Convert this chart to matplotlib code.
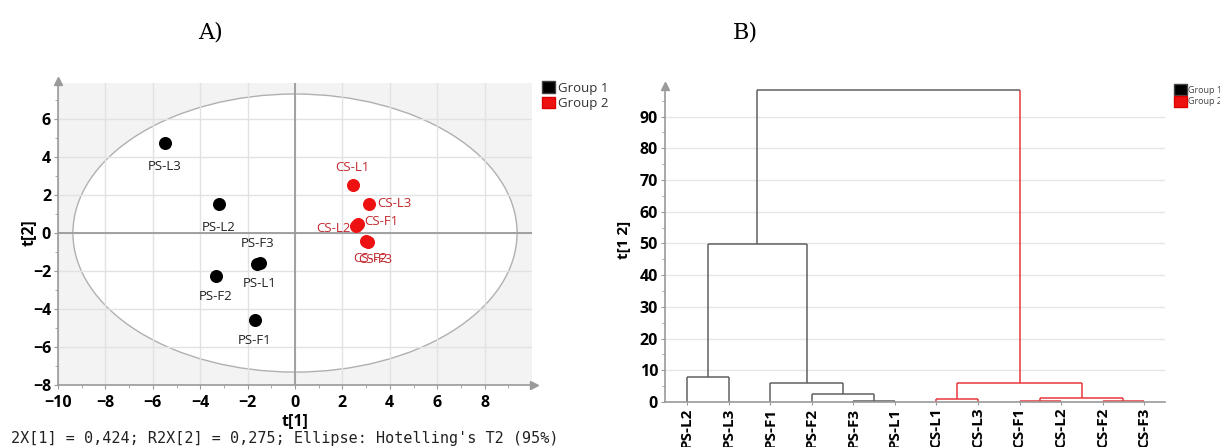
import matplotlib
matplotlib.use("Agg")
import matplotlib.pyplot as plt
from matplotlib.patches import Ellipse, Patch
from matplotlib.ticker import MultipleLocator

# ---------------- data ----------------
# Panel A: PCA scores
g1_names = ['PS-L3', 'PS-L2', 'PS-F3', 'PS-L1', 'PS-F2', 'PS-F1']
g1_t1 = [-5.49, -3.20, -1.60, -1.48, -3.34, -1.69]
g1_t2 = [4.74, 1.53, -1.63, -1.58, -2.26, -4.58]
g2_names = ['CS-L1', 'CS-L3', 'CS-L2', 'CS-F1', 'CS-F2', 'CS-F3']
g2_t1 = [2.44, 3.12, 2.57, 2.65, 3.00, 3.08]
g2_t2 = [2.53, 1.53, 0.37, 0.47, -0.42, -0.47]
ellipse_a, ellipse_b = 9.37, 7.32  # Hotelling's T2 (95%) semi-axes

# Panel B: dendrogram
leaves = ['PS-L2', 'PS-L3', 'PS-F1', 'PS-F2', 'PS-F3', 'PS-L1',
          'CS-L1', 'CS-L3', 'CS-F1', 'CS-L2', 'CS-F2', 'CS-F3']
leaf_group = [1] * 6 + [2] * 6
# merges: (left child, right child, height); children are leaf names or 'mN'
merges = [
    ('PS-F3', 'PS-L1', 0.3),   # m0
    ('PS-F2', 'm0', 2.6),      # m1
    ('PS-F1', 'm1', 5.9),      # m2
    ('PS-L2', 'PS-L3', 8.0),   # m3
    ('m3', 'm2', 49.8),        # m4
    ('CS-F1', 'CS-L2', 0.2),   # m5
    ('CS-F2', 'CS-F3', 0.2),   # m6
    ('CS-L1', 'CS-L3', 1.1),   # m7
    ('m5', 'm6', 1.2),         # m8
    ('m7', 'm8', 5.9),         # m9
    ('m4', 'm9', 98.5),        # m10
]
group_labels = ['Group 1', 'Group 2']

# ---------------- style ----------------
C1 = '#000000'
C2 = '#ee1111'
C2_TXT = '#c0282d'
DGRAY = '#606060'
DRED = '#e8383d'
AXGRAY = '#9a9a9a'
GRID = '#e2e2e2'

fig = plt.figure(figsize=(12.2, 4.47), dpi=100)

# ---------------- Panel A ----------------
axA = fig.add_axes([58 / 1220, 1 - 385 / 447, 474 / 1220, 302 / 447])
axA.set_facecolor('#f3f3f3')
axA.set_xlim(-10, 10)
axA.set_ylim(-8, 7.9)
axA.set_axisbelow(True)
axA.add_patch(Ellipse((0, 0), 2 * ellipse_a, 2 * ellipse_b, facecolor='white',
                      edgecolor='#b0b0b0', lw=1.0, zorder=0.2))
axA.xaxis.set_major_locator(MultipleLocator(2))
axA.yaxis.set_major_locator(MultipleLocator(2))
axA.xaxis.set_minor_locator(MultipleLocator(1))
axA.yaxis.set_minor_locator(MultipleLocator(1))
axA.grid(True, which='major', color=GRID, lw=1.0)
axA.axhline(0, color=AXGRAY, lw=1.3, zorder=0.6)
axA.axvline(0, color=AXGRAY, lw=1.3, zorder=0.6)
for s in ['top', 'right']:
    axA.spines[s].set_visible(False)
for s in ['left', 'bottom']:
    axA.spines[s].set_color(AXGRAY)
    axA.spines[s].set_linewidth(1.2)
axA.plot([0], [1.005], marker='^', color=AXGRAY, ms=6, transform=axA.transAxes, clip_on=False)
axA.plot([1.005], [0], marker='>', color=AXGRAY, ms=6, transform=axA.transAxes, clip_on=False)
axA.tick_params(which='both', color=AXGRAY, direction='out')
axA.tick_params(which='major', length=3)
axA.tick_params(which='minor', length=2)
axA.tick_params(axis='y', which='major', pad=2)
axA.tick_params(axis='x', which='major', pad=4)
axA.set_xticks([-10, -8, -6, -4, -2, 0, 2, 4, 6, 8])
axA.set_yticks([-8, -6, -4, -2, 0, 2, 4, 6])
for lab in axA.get_xticklabels() + axA.get_yticklabels():
    lab.set_fontfamily('Open Sans')
    lab.set_fontweight('bold')
    lab.set_fontsize(11.5)

axA.scatter(g1_t1, g1_t2, s=70, color=C1, zorder=3)
axA.scatter(g2_t1, g2_t2, s=70, color=C2, zorder=3)

lab_off = {
    'PS-L3': (0, -12, 'center', 'top'), 'PS-L2': (0, -12, 'center', 'top'),
    'PS-F3': (0, 10, 'center', 'bottom'), 'PS-L1': (0, -10, 'center', 'top'),
    'PS-F2': (0, -10, 'center', 'top'), 'PS-F1': (0, -10, 'center', 'top'),
    'CS-L1': (0, 8, 'center', 'bottom'), 'CS-L3': (6, 0, 'left', 'center'),
    'CS-L2': (-4, -2, 'right', 'center'), 'CS-F1': (5, 2, 'left', 'center'),
    'CS-F2': (3, -8, 'center', 'top'), 'CS-F3': (5, -8, 'center', 'top'),
}
for n, x, y in zip(g1_names, g1_t1, g1_t2):
    dx, dy, ha, va = lab_off[n]
    axA.annotate(n, (x, y), xytext=(dx, dy), textcoords='offset points', ha=ha, va=va,
                 fontsize=9.5, family='Open Sans', color='#222222')
for n, x, y in zip(g2_names, g2_t1, g2_t2):
    dx, dy, ha, va = lab_off[n]
    axA.annotate(n, (x, y), xytext=(dx, dy), textcoords='offset points', ha=ha, va=va,
                 fontsize=9.5, family='Open Sans', color=C2_TXT)

fig.text(29 / 1220, 1 - 233 / 447, 't[2]', rotation=90, ha='center', va='center',
         fontsize=11.5, fontweight='bold', family='Open Sans')
fig.text(295 / 1220, 1 - 421 / 447, 't[1]', ha='center', va='center',
         fontsize=11.5, fontweight='bold', family='Open Sans')
fig.text(11 / 1220, 1 - 438 / 447, "2X[1] = 0,424; R2X[2] = 0,275; Ellipse: Hotelling's T2 (95%)",
         ha='left', va='center', fontsize=10.9, family='DejaVu Sans Mono', color='#222222')

legA = fig.legend(handles=[Patch(facecolor=C1, edgecolor='#444444', label=group_labels[0]),
                           Patch(facecolor=C2, edgecolor='#dd0000', label=group_labels[1])],
                  loc='upper left', bbox_to_anchor=(533 / 1220, 1 - 72 / 447), frameon=False,
                  handlelength=1.0, handleheight=1.0, handletextpad=0.2, labelspacing=0.15,
                  borderpad=0.2, prop={'family': 'Open Sans', 'size': 9.5})
for t in legA.get_texts():
    t.set_color('#333333')

# ---------------- Panel B ----------------
axB = fig.add_axes([665 / 1220, 1 - 402 / 447, 500 / 1220, 314 / 447])
axB.set_xlim(-0.53, 11.5)
axB.set_ylim(0, 99)
axB.set_axisbelow(True)
axB.yaxis.set_major_locator(MultipleLocator(10))
axB.yaxis.set_minor_locator(MultipleLocator(5))
axB.grid(True, axis='y', which='major', color='#e6e6e6', lw=1.0)
for s in ['top', 'right']:
    axB.spines[s].set_visible(False)
for s in ['left', 'bottom']:
    axB.spines[s].set_color(AXGRAY)
    axB.spines[s].set_linewidth(1.2)
axB.plot([0], [1.005], marker='^', color=AXGRAY, ms=6, transform=axB.transAxes, clip_on=False)
axB.tick_params(axis='y', which='both', color=AXGRAY, direction='out')
axB.tick_params(axis='y', which='major', length=3, pad=2)
axB.tick_params(axis='y', which='minor', length=2)
axB.set_yticks(range(0, 100, 10))
for lab in axB.get_yticklabels():
    lab.set_fontfamily('Open Sans')
    lab.set_fontweight('bold')
    lab.set_fontsize(11.5)

pos = {n: i for i, n in enumerate(leaves)}
hgt = {n: 0.0 for n in leaves}
col = {n: (DGRAY if g == 1 else DRED) for n, g in zip(leaves, leaf_group)}
for k, (a, b, h) in enumerate(merges):
    xa, xb = pos[a], pos[b]
    axB.plot([xa, xa], [hgt[a], h], color=col[a], lw=1.1, solid_capstyle='butt')
    axB.plot([xb, xb], [hgt[b], h], color=col[b], lw=1.1, solid_capstyle='butt')
    axB.plot([xa, xb], [h, h], color=col[a], lw=1.1, solid_capstyle='butt')
    m = 'm%d' % k
    pos[m] = (xa + xb) / 2
    hgt[m] = h
    col[m] = col[a] if col[a] == col[b] else DGRAY

axB.set_xticks(range(len(leaves)))
axB.set_xticklabels(leaves, rotation=90, fontsize=11, fontweight='bold', family='Open Sans')
axB.tick_params(axis='x', length=2, color=AXGRAY, pad=2)

fig.text(624 / 1220, 1 - 240 / 447, 't[1 2]', rotation=90, ha='center', va='center',
         fontsize=11, fontweight='bold', family='Open Sans')

legB = fig.legend(handles=[Patch(facecolor=C1, edgecolor='#444444', label=group_labels[0]),
                           Patch(facecolor=C2, edgecolor='#dd0000', label=group_labels[1])],
                  loc='upper left', bbox_to_anchor=(1168 / 1220, 1 - 78 / 447), frameon=False,
                  handlelength=1.4, handleheight=1.4, handletextpad=0.15, labelspacing=0.15,
                  borderpad=0.2, prop={'family': 'Open Sans', 'size': 6.5})
for t in legB.get_texts():
    t.set_color('#444444')

# titles
fig.text(210 / 1220, 1 - 33 / 447, 'A)', ha='center', va='center', fontsize=16, family='DejaVu Serif')
fig.text(745 / 1220, 1 - 33 / 447, 'B)', ha='center', va='center', fontsize=16, family='DejaVu Serif')

fig.savefig('out.png', dpi=100)
